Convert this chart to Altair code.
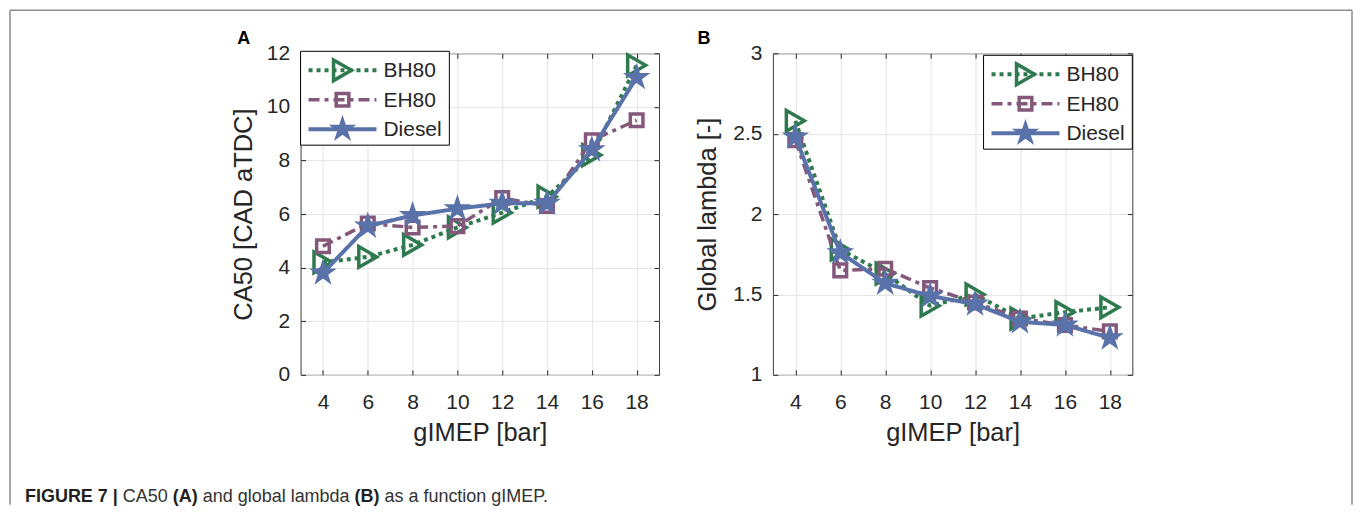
import altair as alt
import pandas as pd

# gIMEP load points [bar]
gimep = [4, 6, 8, 10, 12, 14, 16, 18]
series = ['BH80', 'EH80', 'Diesel']

# Panel A: CA50 [CAD aTDC]
ca50_bh80 = [4.2, 4.4, 4.85, 5.5, 6.05, 6.65, 8.2, 11.55]
ca50_eh80 = [4.8, 5.65, 5.5, 5.55, 6.6, 6.3, 8.75, 9.5]
ca50_diesel = [3.8, 5.55, 5.95, 6.2, 6.4, 6.4, 8.4, 11.1]
ca50_ticks = [0, 2, 4, 6, 8, 10, 12]

# Panel B: global lambda [-]
lambda_bh80 = [2.58, 1.78, 1.63, 1.43, 1.5, 1.35, 1.39, 1.42]
lambda_eh80 = [2.46, 1.65, 1.66, 1.54, 1.45, 1.35, 1.31, 1.27]
lambda_diesel = [2.48, 1.76, 1.57, 1.49, 1.44, 1.33, 1.31, 1.23]
lambda_ticks = [1, 1.5, 2, 2.5, 3]

caption_parts = ['FIGURE 7 |', 'CA50', '(A)', 'and global lambda', '(B)', 'as a function gIMEP.']
caption_bold = [True, False, True, False, True, False]
caption_x = [-276, -178, -128, -98, 54, 84]

STAR = ('M0,-1L0.2245,-0.309L0.9511,-0.309L0.3633,0.118L0.5878,0.809L0,0.382'
        'L-0.5878,0.809L-0.3633,0.118L-0.9511,-0.309L-0.2245,-0.309Z')

styles = {
    'BH80': dict(color='#2e7a4e', dash=[4, 4], width=4, shape='triangle-right', size=430, filled=False, sw=3.5),
    'EH80': dict(color='#84587a', dash=[11, 5, 4, 5], width=3.5, shape='square', size=160, filled=False, sw=3.5),
    'Diesel': dict(color='#5a72aa', dash=[1, 0], width=4, shape=STAR, size=850, filled=True, sw=1),
}

H = 322
TXT = '#262626'


def make_panel(values, y_domain, y_ticks, y_fmt, y_title, width, y_title_x, letter, letter_x, leg_x, leg_y, extra=None):
    df = pd.DataFrame({
        'gimep': gimep * 3,
        'value': values[0] + values[1] + values[2],
        'series': sum([[s] * len(gimep) for s in series], []),
    })
    xs = alt.Scale(domain=[3, 19], nice=False)
    ys = alt.Scale(domain=y_domain, nice=False)
    base = alt.Chart(df)

    # grid lines only
    grid = base.mark_point(opacity=0).encode(
        x=alt.X('gimep:Q', scale=xs, axis=alt.Axis(values=gimep, grid=True, labels=False, ticks=False,
                                                  domain=False, title=None)),
        y=alt.Y('value:Q', scale=ys, axis=alt.Axis(values=y_ticks, grid=True, labels=False, ticks=False,
                                                  domain=False, title=None)),
    )
    # inward ticks on top / right (box on)
    mirror = base.mark_point(opacity=0).encode(
        x=alt.X('gimep:Q', scale=xs, axis=alt.Axis(orient='top', values=gimep, grid=False, labels=False,
                                                  tickSize=5, offset=-5, domain=False, title=None)),
        y=alt.Y('value:Q', scale=ys, axis=alt.Axis(orient='right', values=y_ticks, grid=False, labels=False,
                                                  tickSize=5, offset=-5, domain=False, title=None)),
    )
    # main axes with labels and titles
    main = base.mark_point(opacity=0).encode(
        x=alt.X('gimep:Q', scale=xs, axis=alt.Axis(
            orient='bottom', values=gimep, format='d', grid=False, domain=False, tickSize=5, offset=-5,
            labelPadding=17, title='gIMEP [bar]', titleX=width / 2, titleY=63, titleAlign='center',
            titleBaseline='middle')),
        y=alt.Y('value:Q', scale=ys, axis=alt.Axis(
            orient='left', values=y_ticks, format=y_fmt, grid=False, domain=False, tickSize=5, offset=-5,
            labelPadding=11, title=y_title, titleX=y_title_x, titleY=H / 2, titleAngle=270,
            titleAlign='center', titleBaseline='middle')),
    )
    layers = [grid, mirror, main]

    for name in series:
        st = styles[name]
        sub = df[df['series'] == name]
        enc = dict(x=alt.X('gimep:Q', scale=xs, axis=None), y=alt.Y('value:Q', scale=ys, axis=None))
        layers.append(alt.Chart(sub).mark_line(color=st['color'], strokeWidth=st['width'],
                                               strokeDash=st['dash']).encode(**enc))
        layers.append(alt.Chart(sub).mark_point(shape=st['shape'], size=st['size'], filled=st['filled'],
                                                color=st['color'], strokeWidth=st['sw'],
                                                opacity=1).encode(**enc))

    # legend box
    one = pd.DataFrame({'k': [letter]})
    layers.append(alt.Chart(one).mark_rect(fill='white', stroke='black', strokeWidth=1).encode(
        x=alt.value(leg_x), x2=alt.value(leg_x + 149), y=alt.value(leg_y), y2=alt.value(leg_y + 94)))
    for i, name in enumerate(series):
        st = styles[name]
        row = pd.DataFrame({'series': [name]})
        yy = leg_y + 19 + 29.5 * i
        layers.append(alt.Chart(row).mark_rule(color=st['color'], strokeWidth=st['width'],
                                               strokeDash=st['dash']).encode(
            x=alt.value(leg_x + 8), x2=alt.value(leg_x + 76), y=alt.value(yy)))
        layers.append(alt.Chart(row).mark_point(shape=st['shape'], size=st['size'], filled=st['filled'],
                                                color=st['color'], strokeWidth=st['sw'], opacity=1).encode(
            x=alt.value(leg_x + 42), y=alt.value(yy)))
        layers.append(alt.Chart(row).mark_text(align='left', baseline='middle', fontSize=21, color=TXT).encode(
            x=alt.value(leg_x + 83), y=alt.value(yy + 1), text='series:N'))

    # panel letter
    layers.append(alt.Chart(one).mark_text(fontSize=18, fontWeight='bold', color='black').encode(
        x=alt.value(letter_x), y=alt.value(-14), text='k:N'))

    if extra:
        layers += extra

    return alt.layer(*layers).properties(width=width, height=H).resolve_axis(x='independent', y='independent')


# figure frame and caption (drawn relative to panel A)
frame_col = '#8c8c8c'
one_row = pd.DataFrame({'k': [0]})
frame = [
    alt.Chart(one_row).mark_rule(color=frame_col, strokeWidth=1.5).encode(
        x=alt.value(-291), x2=alt.value(1053), y=alt.value(-43)),
    alt.Chart(one_row).mark_rule(color=frame_col, strokeWidth=1.5).encode(
        x=alt.value(-291), y=alt.value(-43), y2=alt.value(452)),
    alt.Chart(one_row).mark_rule(color=frame_col, strokeWidth=1.5).encode(
        x=alt.value(1053), y=alt.value(-43), y2=alt.value(452)),
]
for txt, bold, cx in zip(caption_parts, caption_bold, caption_x):
    frame.append(alt.Chart(pd.DataFrame({'t': [txt]})).mark_text(
        align='left', baseline='middle', fontSize=18,
        fontWeight='bold' if bold else 'normal', color='#231f20' if bold else '#333333').encode(
        x=alt.value(cx), y=alt.value(444), text='t:N'))

panel_a = make_panel([ca50_bh80, ca50_eh80, ca50_diesel], [0, 12], ca50_ticks, 'd', 'CA50 [CAD aTDC]',
                     359, -62, 'A', -57, 0, -2, extra=frame)
panel_b = make_panel([lambda_bh80, lambda_eh80, lambda_diesel], [1, 3], lambda_ticks, '~g', 'Global lambda [-]',
                     360, -70, 'B', -69, 211, 2)

chart = alt.hconcat(panel_a, panel_b, spacing=114, bounds='flush').properties(
    padding=0
).configure(
    font='Liberation Sans'
).configure_axis(
    labelFontSize=21, labelColor=TXT, tickColor=TXT, tickWidth=1, titleFontSize=25.5,
    titleFontWeight='normal', titleColor=TXT, gridColor='#e4e4e4', gridWidth=1
).configure_view(
    stroke='#3c3c3c', strokeWidth=1
)

chart.save("out.html", embed_options={"renderer": "svg", "actions": False})
